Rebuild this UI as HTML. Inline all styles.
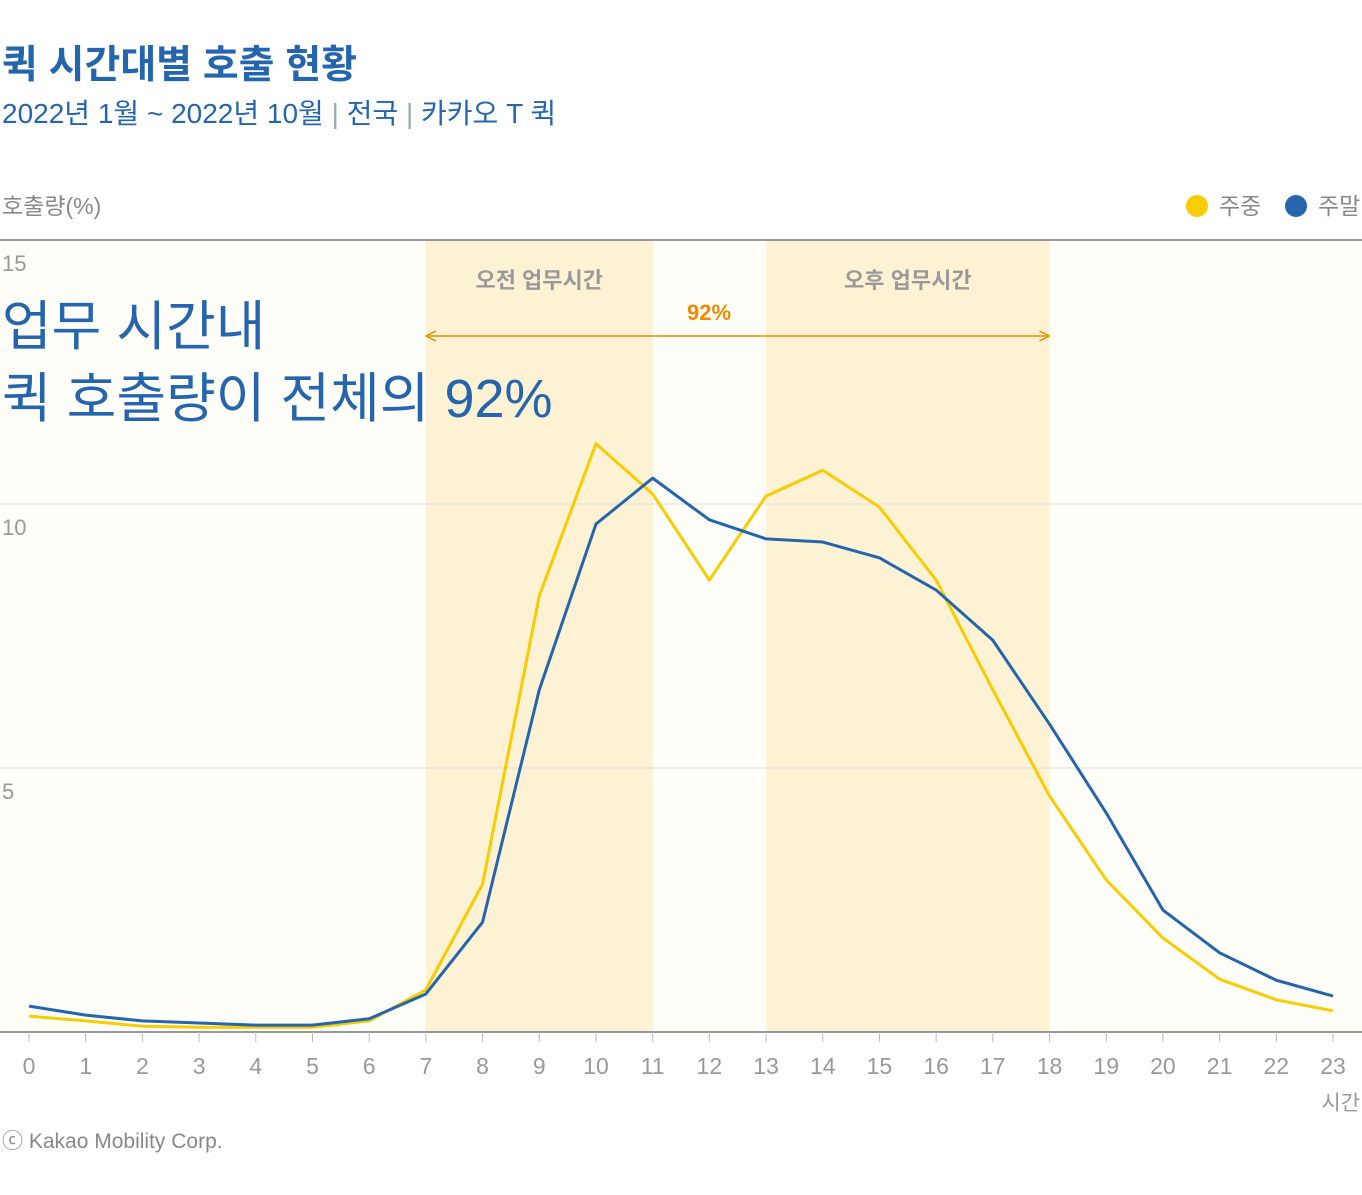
<!DOCTYPE html>
<html><head><meta charset="utf-8">
<style>
html,body{margin:0;padding:0;background:#fff;width:1362px;height:1195px;overflow:hidden;}
body{font-family:"Liberation Sans","Noto Sans CJK KR",sans-serif;}
svg text{font-family:"Liberation Sans","Noto Sans CJK KR",sans-serif;}
</style></head>
<body>
<svg id="chart" width="1362" height="1195" xmlns="http://www.w3.org/2000/svg">
<text x="2" y="78" font-size="39" font-weight="bold" fill="#2465ad" textLength="355" lengthAdjust="spacingAndGlyphs">퀵 시간대별 호출 현황</text>
<text x="2" y="123" font-size="28" fill="#2465ad">2022년 1월 ~ 2022년 10월 <tspan fill="#9aa">|</tspan> 전국 <tspan fill="#9aa">|</tspan> 카카오 T 퀵</text>
<text x="2" y="214" font-size="23" fill="#888">호출량(%)</text>
<g>
<circle cx="1197" cy="206" r="11" fill="#f7cc00"/>
<text x="1219" y="214" font-size="23" fill="#888">주중</text>
<circle cx="1296" cy="206" r="11" fill="#2465ad"/>
<text x="1318" y="214" font-size="23" fill="#888">주말</text>
</g>
<g id="plot"></g>
<text x="2" y="1148" font-size="21" fill="#888">ⓒ Kakao Mobility Corp.</text>
</svg>
<script>
const hours=[0,1,2,3,4,5,6,7,8,9,10,11,12,13,14,15,16,17,18,19,20,21,22,23];
const weekday=[0.30,0.21,0.11,0.09,0.09,0.09,0.21,0.80,2.80,8.26,11.14,10.19,8.56,10.15,10.64,9.94,8.56,6.48,4.47,2.88,1.78,1.00,0.61,0.40];
const weekend=[0.49,0.32,0.21,0.17,0.13,0.13,0.25,0.72,2.08,6.48,9.62,10.49,9.70,9.34,9.28,8.98,8.37,7.42,5.83,4.15,2.31,1.50,0.98,0.68];
const yTicks=[5,10,15];
const bands=[[7,11,'오전 업무시간'],[13,18,'오후 업무시간']];
const NS='http://www.w3.org/2000/svg';
const x=h=>29+h*(1333-29)/23;
const y=v=>1032-v*52.8;
const g=document.getElementById('plot');
function mk(t,a){const e=document.createElementNS(NS,t);for(const k in a)e.setAttribute(k,a[k]);g.appendChild(e);return e;}
let e=mk('rect',{x:0,y:y(15),width:1362,height:y(0)-y(15),fill:'#fffdf8'});


bands.forEach(b=>{
 let r=mk('rect',{x:x(b[0]),y:y(15),width:x(b[1])-x(b[0]),height:y(0)-y(15),fill:'#fef2d4'});
 
 
 let t=mk('text',{x:(x(b[0])+x(b[1]))/2,y:288,'text-anchor':'middle','font-size':22,fill:'#999','font-weight':'bold'});
 t.textContent=b[2];
 
 
});
yTicks.forEach(v=>{
 let l=mk('line',{x1:0,x2:1362,y1:y(v),y2:y(v),stroke:v===15?'#999':'#ddd','stroke-width':v===15?2:1});
 
 
 let t=mk('text',{x:2,y:y(v)+31,'font-size':22,fill:'#999'});
 t.textContent=v;
 
 
});
let ax=mk('line',{x1:0,x2:1362,y1:y(0),y2:y(0),stroke:'#999','stroke-width':2});


hours.forEach(h=>{
 let tk=mk('line',{x1:x(h),x2:x(h),y1:y(0),y2:y(0)+10,stroke:'#bbb'});
 
 
 let t=mk('text',{x:x(h),y:1074,'text-anchor':'middle','font-size':23,fill:'#999'});
 t.textContent=h;
 
 
});
let xt=mk('text',{x:1360,y:1110,'text-anchor':'end','font-size':21,fill:'#999'});
xt.textContent='시간';


let ar=mk('line',{x1:x(7)+2,x2:x(18)-2,y1:336,y2:336,stroke:'#ef8a00','stroke-width':1.5});


[[x(7),1],[x(18),-1]].forEach(p=>{
 let a=mk('path',{d:`M${p[0]},336 l${10*p[1]},-5 M${p[0]},336 l${10*p[1]},5`,stroke:'#ef8a00','stroke-width':1.5,fill:'none'});
 
 
});
let pt=mk('text',{x:709,y:320,'text-anchor':'middle','font-size':22,'font-weight':'bold',fill:'#ef8a00'});
pt.textContent='92%';


let h1=mk('text',{x:2,y:345,'font-size':54,fill:'#2465ad'});
h1.textContent='업무 시간내';


let h2=mk('text',{x:2,y:417,'font-size':54,fill:'#2465ad'});
h2.textContent='퀵 호출량이 전체의 92%';


[[weekday,'#f7cc00','weekday-line'],[weekend,'#2465ad','weekend-line']].forEach(s=>{
 let p=mk('polyline',{points:s[0].map((v,i)=>x(hours[i])+','+y(v)).join(' '),fill:'none',stroke:s[1],'stroke-width':3,'stroke-linejoin':'round'});
 
 
});
</script>
</body></html>
